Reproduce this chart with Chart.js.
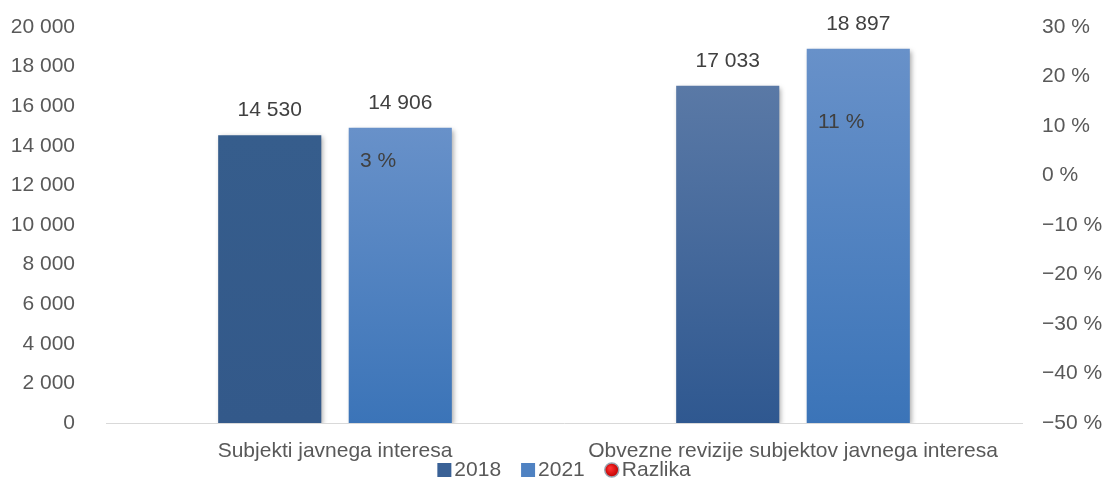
<!DOCTYPE html>
<html>
<head>
<meta charset="utf-8">
<script src="https://cdn.jsdelivr.net/npm/chart.js@4/dist/chart.umd.min.js"></script>
<style>
  html,body{margin:0;padding:0;background:#fff;}
  #wrap{width:1110px;height:481px;position:relative;}
</style>
</head>
<body>
<div id="wrap"><canvas id="chart"></canvas></div>
<script>
// data
const categories = ['Subjekti javnega interesa', 'Obvezne revizije subjektov javnega interesa'];
const values2018 = [14530, 17033];
const values2021 = [14906, 18897];
const razlika = [3, 11];   // % difference, right axis

// per-bar gradient stops (top, bottom)
const fill2018 = [['#365d8c', '#33598a'], ['#5a79a6', '#2f5890']];
const fill2021 = [['#6891c9', '#3b74b8'], ['#6891c9', '#3b74b8']];
const legendColors = ['#3a6196', '#4f82c2', '#e00000'];

const FONT = "'Liberation Sans', Arial, sans-serif";
const FS = 21;

function fmt(n){
  return String(n).replace(/\B(?=(\d{3})+(?!\d))/g, ' ');
}

function barFill(stops){
  return function(c){
    const chart = c.chart;
    const s = stops[c.dataIndex] || stops[0];
    if(!chart.chartArea || c.type !== 'data') return s[1];
    const y = chart.scales.y;
    const g = chart.ctx.createLinearGradient(0, y.getPixelForValue(c.raw), 0, y.getPixelForValue(0));
    g.addColorStop(0, s[0]);
    g.addColorStop(1, s[1]);
    return g;
  };
}

const shadow = {
  id: 'shadow',
  beforeDatasetDraw(chart, args){
    if(args.meta.type !== 'bar') return;
    const ctx = chart.ctx;
    ctx.save();
    ctx.shadowColor = 'rgba(0,0,0,0.35)';
    ctx.shadowBlur = 5;
    ctx.shadowOffsetX = 2;
    ctx.shadowOffsetY = 2;
  },
  afterDatasetDraw(chart, args){
    if(args.meta.type !== 'bar') return;
    chart.ctx.restore();
  }
};

const labels = {
  id: 'labels',
  afterDatasetsDraw(chart){
    const ctx = chart.ctx;
    ctx.save();
    ctx.font = FS + 'px ' + FONT;
    ctx.fillStyle = '#404040';
    ctx.textBaseline = 'middle';
    chart.data.datasets.forEach((ds, i) => {
      const meta = chart.getDatasetMeta(i);
      meta.data.forEach((el, j) => {
        if(meta.type === 'bar'){
          ctx.textAlign = 'center';
          ctx.fillText(fmt(ds.data[j]), el.x, el.y - 25);
        } else {
          ctx.textAlign = 'left';
          ctx.fillText(ds.data[j] + ' %', el.x + 25, el.y + 1);
        }
      });
    });
    ctx.restore();
  }
};

// legend drawn by hand so the spacing matches (small gap box->text)
const legendBox = {
  id: 'legendBox',
  afterDraw(chart){
    const ctx = chart.ctx;
    const area = chart.chartArea;
    const ds = chart.data.datasets;
    ctx.save();
    ctx.font = FS + 'px ' + FONT;
    ctx.textBaseline = 'middle';
    ctx.textAlign = 'left';
    const box = 14, gap = 3, space = 20;
    const widths = ds.map(d => box + gap + ctx.measureText(d.label).width);
    const total = widths.reduce((a, b) => a + b, 0) + space * (ds.length - 1);
    let x = (area.left + area.right) / 2 - total / 2;
    const y = 470;
    ds.forEach((d, i) => {
      if(d.type === 'line'){
        const cx = x + box / 2;
        const g = ctx.createRadialGradient(cx - 2, y - 2, 1, cx, y, box / 2);
        g.addColorStop(0, '#ff3030');
        g.addColorStop(1, '#c00000');
        ctx.beginPath();
        ctx.arc(cx, y, box / 2, 0, Math.PI * 2);
        ctx.fillStyle = g;
        ctx.fill();
        ctx.lineWidth = 1.5;
        ctx.strokeStyle = '#9aa4b0';
        ctx.stroke();
      } else {
        ctx.fillStyle = legendColors[i];
        ctx.fillRect(x, y - box / 2, box, box);
      }
      ctx.fillStyle = '#595959';
      ctx.fillText(d.label, x + box + gap, y);
      x += widths[i] + space;
    });
    ctx.restore();
  }
};

new Chart(document.getElementById('chart'), {
  type: 'bar',
  data: {
    labels: categories,
    datasets: [
      {label: '2018', data: values2018, backgroundColor: barFill(fill2018), yAxisID: 'y',
       barPercentage: 0.79, categoryPercentage: 0.57, order: 2},
      {label: '2021', data: values2021, backgroundColor: barFill(fill2021), yAxisID: 'y',
       barPercentage: 0.79, categoryPercentage: 0.57, order: 2},
      {label: 'Razlika', type: 'line', data: razlika, yAxisID: 'y1', showLine: false,
       pointRadius: 0, pointHoverRadius: 0,
       backgroundColor: '#e00000', borderColor: '#9a9a9a', order: 1}
    ]
  },
  options: {
    responsive: true,
    maintainAspectRatio: false,
    animation: false,
    events: [],
    layout: {padding: {top: 27, left: 0, right: 0, bottom: 0}},
    scales: {
      x: {
        grid: {display: false},
        border: {display: true, color: '#d9d9d9', width: 1},
        ticks: {color: '#595959', font: {family: FONT, size: FS}, padding: 8, maxRotation: 0},
        afterFit(s){ s.height = 58; }
      },
      y: {
        position: 'left',
        min: 0, max: 20000,
        grid: {display: false},
        border: {display: false},
        ticks: {stepSize: 2000, color: '#595959', font: {family: FONT, size: FS}, padding: 23,
                callback: v => fmt(v)},
        afterFit(s){ s.width = 106; s.paddingTop = 0; s.paddingBottom = 0; }
      },
      y1: {
        position: 'right',
        min: -50, max: 30,
        grid: {display: false},
        border: {display: false},
        ticks: {stepSize: 10, color: '#595959', font: {family: FONT, size: FS}, padding: 12,
                crossAlign: 'near',
                callback: v => (v < 0 ? '\u2212' + Math.abs(v) : v) + ' %'},
        afterFit(s){ s.width = 88; s.paddingTop = 0; s.paddingBottom = 0; }
      }
    },
    plugins: {
      tooltip: {enabled: false},
      legend: {display: false}
    }
  },
  plugins: [shadow, labels, legendBox]
});
</script>
</body>
</html>
